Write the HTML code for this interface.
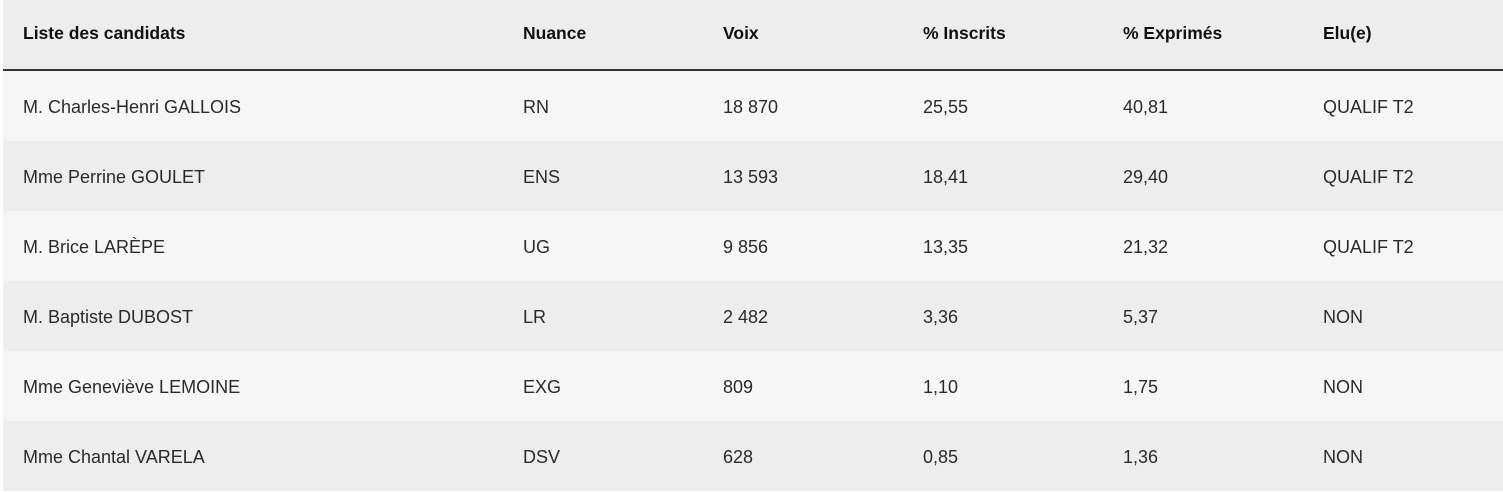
<!DOCTYPE html>
<html><head><meta charset="utf-8"><style>
html,body{margin:0;padding:0;background:#fff;width:1503px;height:491px;overflow:hidden}
.wrap{position:absolute;left:3px;top:0;width:1500px;height:491px}
.row{position:absolute;left:0;width:1500px;height:70px;font-family:"Liberation Sans",sans-serif;font-size:18px;color:#2a2a2a}
.row span{position:absolute;top:1px;line-height:70px}
.h{top:0;height:69px;background:#ededed;font-weight:bold;color:#111;font-size:17.5px;border-bottom:2px solid #333}
.h span{line-height:68px;top:-1px}
.a{background:#f6f6f6}.b{background:#ededed}
.c1{left:20px}.c2{left:520px}.c3{left:720px}.c4{left:920px}.c5{left:1120px}.c6{left:1320px}
</style></head><body><div class="wrap">
<div class="row h"><span class="c1">Liste des candidats</span><span class="c2">Nuance</span><span class="c3">Voix</span><span class="c4">% Inscrits</span><span class="c5">% Exprimés</span><span class="c6">Elu(e)</span></div>
<div class="row a" style="top:71px"><span class="c1">M. Charles-Henri GALLOIS</span><span class="c2">RN</span><span class="c3">18 870</span><span class="c4">25,55</span><span class="c5">40,81</span><span class="c6">QUALIF T2</span></div>
<div class="row b" style="top:141px"><span class="c1">Mme Perrine GOULET</span><span class="c2">ENS</span><span class="c3">13 593</span><span class="c4">18,41</span><span class="c5">29,40</span><span class="c6">QUALIF T2</span></div>
<div class="row a" style="top:211px"><span class="c1">M. Brice LARÈPE</span><span class="c2">UG</span><span class="c3">9 856</span><span class="c4">13,35</span><span class="c5">21,32</span><span class="c6">QUALIF T2</span></div>
<div class="row b" style="top:281px"><span class="c1">M. Baptiste DUBOST</span><span class="c2">LR</span><span class="c3">2 482</span><span class="c4">3,36</span><span class="c5">5,37</span><span class="c6">NON</span></div>
<div class="row a" style="top:351px"><span class="c1">Mme Geneviève LEMOINE</span><span class="c2">EXG</span><span class="c3">809</span><span class="c4">1,10</span><span class="c5">1,75</span><span class="c6">NON</span></div>
<div class="row b" style="top:421px"><span class="c1">Mme Chantal VARELA</span><span class="c2">DSV</span><span class="c3">628</span><span class="c4">0,85</span><span class="c5">1,36</span><span class="c6">NON</span></div>
</div></body></html>
